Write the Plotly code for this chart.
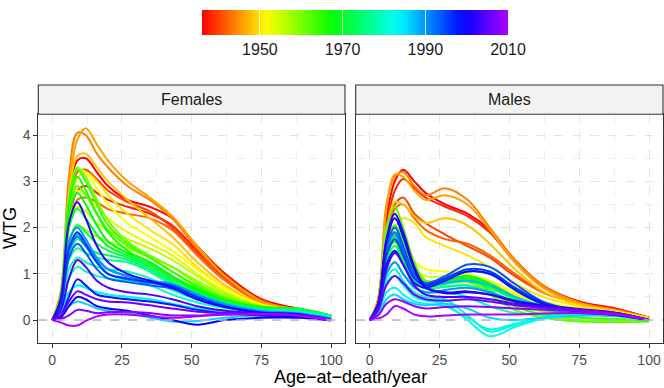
import colorsys
import plotly.graph_objects as go

# ---------------- data ----------------
AGES = [0, 3, 6, 9, 12, 16, 20, 27, 35, 43, 52, 62, 75, 88, 100]

YEARS = [1936, 1938, 1940, 1942, 1944, 1946, 1948, 1950, 1952, 1954,
         1956, 1958, 1960, 1962, 1964, 1966, 1968, 1970, 1972, 1974,
         1976, 1978, 1980, 1982, 1984, 1986, 1988, 1990, 1992, 1994,
         1996, 1998, 2000, 2002, 2004, 2006, 2008, 2010]

FEMALE_WTG = [
    [0, 0.5, 2.6, 3.45, 3.5, 3.2, 2.9, 2.6, 2.45, 2.2, 1.6, 1.0, 0.45, 0.25, 0.08],
    [0, 0.4, 2.1, 2.8, 2.9, 2.75, 2.6, 2.45, 2.3, 2.05, 1.5, 0.95, 0.42, 0.22, 0.07],
    [0, 0.45, 2.4, 3.2, 3.25, 3.05, 2.8, 2.55, 2.35, 2.0, 1.45, 0.9, 0.4, 0.22, 0.07],
    [0, 0.4, 2.0, 2.6, 2.65, 2.55, 2.4, 2.3, 2.2, 1.95, 1.4, 0.85, 0.38, 0.2, 0.06],
    [0, 0.6, 3.1, 4.05, 4.0, 3.6, 3.3, 2.9, 2.6, 2.2, 1.55, 0.95, 0.42, 0.22, 0.07],
    [0, 0.5, 2.8, 3.9, 4.15, 3.8, 3.45, 3.0, 2.65, 2.25, 1.6, 0.95, 0.4, 0.22, 0.07],
    [0, 0.5, 2.7, 3.55, 3.6, 3.3, 3.0, 2.6, 2.2, 1.8, 1.25, 0.75, 0.35, 0.2, 0.06],
    [0, 0.4, 2.3, 3.05, 3.2, 3.0, 2.7, 2.3, 1.95, 1.65, 1.15, 0.7, 0.34, 0.2, 0.06],
    [0, 0.5, 2.6, 3.25, 3.2, 2.85, 2.5, 2.1, 1.8, 1.5, 1.1, 0.68, 0.33, 0.2, 0.06],
    [0, 0.4, 2.2, 2.8, 2.7, 2.45, 2.2, 1.9, 1.65, 1.4, 1.0, 0.62, 0.3, 0.2, 0.06],
    [0, 0.4, 2.0, 2.45, 2.35, 2.1, 1.95, 1.75, 1.55, 1.3, 0.95, 0.58, 0.3, 0.2, 0.06],
    [0, 0.3, 1.7, 2.05, 1.95, 1.8, 1.7, 1.55, 1.35, 1.15, 0.85, 0.55, 0.3, 0.22, 0.07],
    [0, 0.5, 2.6, 3.3, 3.1, 2.6, 2.15, 1.7, 1.4, 1.15, 0.8, 0.5, 0.28, 0.22, 0.08],
    [0, 0.4, 2.3, 2.9, 2.7, 2.3, 1.95, 1.6, 1.35, 1.05, 0.75, 0.48, 0.28, 0.23, 0.08],
    [0, 0.5, 2.6, 3.25, 3.0, 2.5, 2.05, 1.65, 1.35, 1.05, 0.72, 0.46, 0.28, 0.24, 0.09],
    [0, 0.5, 2.5, 3.1, 2.8, 2.3, 1.9, 1.5, 1.25, 0.95, 0.68, 0.44, 0.28, 0.25, 0.09],
    [0, 0.45, 2.3, 2.75, 2.5, 2.05, 1.7, 1.45, 1.25, 0.95, 0.65, 0.42, 0.27, 0.25, 0.1],
    [0, 0.4, 2.0, 2.4, 2.2, 1.85, 1.6, 1.4, 1.2, 0.9, 0.62, 0.4, 0.27, 0.24, 0.1],
    [0, 0.35, 1.7, 2.05, 1.9, 1.65, 1.5, 1.35, 1.15, 0.85, 0.58, 0.38, 0.25, 0.23, 0.1],
    [0, 0.3, 1.4, 1.75, 1.6, 1.45, 1.4, 1.3, 1.1, 0.8, 0.55, 0.36, 0.24, 0.22, 0.09],
    [0, 0.3, 1.3, 1.55, 1.45, 1.35, 1.3, 1.25, 1.05, 0.75, 0.5, 0.33, 0.22, 0.2, 0.08],
    [0, 0.25, 1.1, 1.35, 1.25, 1.15, 1.1, 1.05, 0.9, 0.65, 0.45, 0.3, 0.2, 0.18, 0.07],
    [0, 0.2, 0.9, 1.15, 1.05, 0.95, 0.9, 0.85, 0.75, 0.55, 0.38, 0.26, 0.18, 0.16, 0.06],
    [0, 0.15, 0.6, 0.75, 0.7, 0.6, 0.55, 0.5, 0.45, 0.35, 0.25, 0.2, 0.15, 0.13, 0.05],
    [0, 0.15, 0.6, 0.75, 0.7, 0.6, 0.55, 0.5, 0.45, 0.35, 0.25, 0.2, 0.15, 0.13, 0.05],
    [0, 0.1, 0.3, 0.4, 0.35, 0.25, 0.2, 0.15, 0.05, -0.03, -0.02, 0.05, 0.1, 0.1, 0.03],
    [0, 0.35, 1.5, 1.85, 1.65, 1.3, 1.1, 0.95, 0.85, 0.75, 0.55, 0.35, 0.2, 0.15, 0.04],
    [0, 0.4, 1.7, 2.0, 1.75, 1.35, 1.1, 0.95, 0.85, 0.78, 0.55, 0.34, 0.19, 0.14, 0.03],
    [0, 0.35, 1.5, 1.8, 1.6, 1.25, 1.0, 0.88, 0.8, 0.72, 0.5, 0.3, 0.17, 0.12, 0.02],
    [0, 0.3, 1.35, 1.65, 1.45, 1.1, 0.9, 0.82, 0.75, 0.68, 0.45, 0.28, 0.15, 0.1, 0.01],
    [0, 0.35, 1.55, 1.9, 1.65, 1.25, 1.0, 0.9, 0.82, 0.74, 0.5, 0.3, 0.16, 0.11, 0.0],
    [0, 0.1, 0.5, 0.88, 0.75, 0.55, 0.5, 0.45, 0.4, 0.33, 0.22, 0.15, 0.1, 0.07, 0.0],
    [0, 0.05, 0.3, 0.5, 0.45, 0.3, 0.25, 0.2, 0.1, 0.0, -0.1, 0.0, 0.05, 0.05, -0.01],
    [0, 0.45, 2.1, 2.55, 2.2, 1.6, 1.25, 1.0, 0.85, 0.7, 0.45, 0.28, 0.16, 0.13, 0.0],
    [0, 0.2, 0.9, 1.3, 1.15, 0.85, 0.7, 0.6, 0.55, 0.45, 0.3, 0.2, 0.14, 0.12, 0.0],
    [0, 0.1, 0.4, 0.62, 0.55, 0.45, 0.4, 0.38, 0.32, 0.25, 0.18, 0.15, 0.13, 0.1, 0.0],
    [0, 0.02, 0.1, 0.22, 0.2, 0.15, 0.17, 0.18, 0.15, 0.1, 0.1, 0.12, 0.12, 0.1, 0.0],
    [0, -0.05, -0.12, -0.12, -0.02, 0.08, 0.12, 0.12, 0.08, 0.05, 0.08, 0.12, 0.13, 0.1, 0.0],
]

MALE_WTG = [
    [0, 0.4, 2.2, 3.0, 3.25, 3.0, 2.75, 2.5, 2.3, 1.95, 1.3, 0.75, 0.4, 0.25, 0.05],
    [0, 0.35, 2.0, 2.8, 3.05, 2.85, 2.65, 2.45, 2.25, 1.9, 1.25, 0.72, 0.38, 0.24, 0.05],
    [0, 0.3, 1.8, 2.5, 2.65, 2.3, 2.1, 1.85, 1.6, 1.35, 0.95, 0.6, 0.35, 0.22, 0.05],
    [0, 0.3, 1.8, 2.4, 2.5, 2.2, 1.95, 1.75, 1.65, 1.4, 1.0, 0.6, 0.35, 0.22, 0.05],
    [0, 0.45, 2.5, 3.1, 3.2, 2.9, 2.7, 2.85, 2.6, 2.0, 1.3, 0.75, 0.38, 0.22, 0.04],
    [0, 0.45, 2.4, 3.15, 3.1, 2.8, 2.6, 2.7, 2.5, 1.95, 1.25, 0.7, 0.36, 0.2, 0.04],
    [0, 0.35, 1.9, 2.55, 2.5, 2.25, 2.1, 2.2, 2.05, 1.65, 1.1, 0.62, 0.33, 0.2, 0.04],
    [0, 0.3, 1.6, 2.0, 2.2, 2.1, 1.8, 1.6, 1.4, 1.15, 0.8, 0.5, 0.3, 0.18, 0.04],
    [0, 0.3, 1.5, 1.75, 1.5, 1.25, 1.1, 1.05, 1.0, 0.85, 0.6, 0.4, 0.25, 0.17, 0.04],
    [0, 0.3, 1.4, 1.7, 1.4, 1.1, 0.95, 0.95, 0.95, 0.8, 0.55, 0.38, 0.24, 0.17, 0.04],
    [0, 0.3, 1.45, 1.8, 1.5, 1.05, 0.85, 0.85, 0.9, 0.75, 0.5, 0.33, 0.22, 0.16, 0.03],
    [0, 0.3, 1.5, 1.85, 1.45, 1.0, 0.8, 0.8, 0.82, 0.62, 0.35, 0.18, 0.06, 0.0, -0.02],
    [0, 0.35, 1.8, 2.3, 1.9, 1.2, 0.85, 0.85, 0.85, 0.6, 0.3, 0.1, 0.0, -0.03, -0.03],
    [0, 0.4, 2.0, 2.45, 2.0, 1.25, 0.85, 0.85, 0.85, 0.55, 0.22, 0.05, -0.03, -0.04, -0.03],
    [0, 0.35, 1.7, 2.05, 1.7, 1.1, 0.8, 0.85, 0.9, 0.65, 0.3, 0.12, 0.05, 0.02, -0.02],
    [0, 0.3, 1.55, 1.9, 1.55, 1.05, 0.8, 0.85, 0.95, 0.75, 0.45, 0.22, 0.12, 0.08, 0.0],
    [0, 0.3, 1.5, 1.8, 1.45, 1.0, 0.78, 0.85, 0.95, 0.8, 0.5, 0.28, 0.15, 0.12, 0.0],
    [0, 0.3, 1.4, 1.7, 1.35, 0.95, 0.75, 0.8, 0.9, 0.75, 0.48, 0.28, 0.16, 0.12, 0.0],
    [0, 0.25, 1.3, 1.6, 1.3, 0.9, 0.72, 0.78, 0.85, 0.7, 0.45, 0.27, 0.17, 0.13, 0.0],
    [0, 0.25, 1.2, 1.5, 1.2, 0.85, 0.68, 0.72, 0.75, 0.6, 0.4, 0.25, 0.17, 0.13, 0.0],
    [0, 0.25, 1.2, 1.5, 1.2, 0.85, 0.68, 0.72, 0.75, 0.6, 0.4, 0.25, 0.17, 0.13, 0.0],
    [0, 0.2, 1.0, 1.25, 1.0, 0.72, 0.6, 0.6, 0.5, 0.3, 0.15, 0.12, 0.12, 0.1, 0.0],
    [0, 0.2, 0.9, 1.1, 0.85, 0.6, 0.5, 0.45, 0.1, -0.25, -0.1, 0.05, 0.1, 0.1, 0.0],
    [0, 0.2, 0.8, 0.95, 0.75, 0.5, 0.42, 0.35, 0.0, -0.35, -0.15, 0.03, 0.1, 0.1, 0.0],
    [0, 0.15, 0.6, 0.7, 0.55, 0.4, 0.35, 0.3, 0.05, -0.2, -0.08, 0.05, 0.1, 0.1, 0.0],
    [0, 0.1, 0.45, 0.55, 0.45, 0.35, 0.32, 0.35, 0.25, 0.05, 0.0, 0.05, 0.1, 0.1, 0.0],
    [0, 0.3, 1.5, 1.85, 1.5, 0.95, 0.75, 0.8, 0.85, 0.75, 0.5, 0.3, 0.17, 0.12, 0.0],
    [0, 0.2, 1.0, 1.25, 1.0, 0.7, 0.6, 0.65, 0.7, 0.6, 0.4, 0.25, 0.15, 0.1, 0.0],
    [0, 0.3, 1.55, 1.9, 1.5, 0.95, 0.78, 0.9, 1.05, 1.0, 0.68, 0.37, 0.19, 0.12, 0.0],
    [0, 0.35, 1.6, 2.0, 1.6, 1.0, 0.8, 0.95, 1.2, 1.15, 0.78, 0.4, 0.2, 0.12, 0.0],
    [0, 0.3, 1.4, 1.75, 1.4, 0.9, 0.75, 0.9, 1.1, 1.05, 0.7, 0.38, 0.19, 0.12, 0.0],
    [0, 0.25, 1.2, 1.5, 1.2, 0.8, 0.7, 0.85, 1.05, 1.0, 0.65, 0.35, 0.18, 0.11, 0.0],
    [0, 0.35, 1.7, 2.2, 1.8, 1.1, 0.7, 0.6, 0.62, 0.55, 0.4, 0.3, 0.22, 0.15, 0.0],
    [0, 0.35, 1.75, 2.3, 1.9, 1.15, 0.72, 0.58, 0.6, 0.55, 0.42, 0.32, 0.24, 0.16, 0.0],
    [0, 0.25, 1.1, 1.45, 1.2, 0.75, 0.55, 0.5, 0.5, 0.45, 0.35, 0.28, 0.22, 0.15, 0.0],
    [0, 0.2, 0.75, 0.95, 0.8, 0.55, 0.45, 0.42, 0.45, 0.4, 0.32, 0.27, 0.22, 0.15, 0.0],
    [0, 0.1, 0.35, 0.45, 0.4, 0.3, 0.25, 0.28, 0.3, 0.28, 0.25, 0.22, 0.2, 0.14, 0.0],
    [0, 0.03, 0.12, 0.3, 0.25, 0.12, 0.08, 0.1, 0.12, 0.12, 0.12, 0.14, 0.15, 0.12, 0.0],
]

PANELS = ["Females", "Males"]
X_TICKS = [0, 25, 50, 75, 100]
Y_TICKS = [0, 1, 2, 3, 4]
CBAR_TICKS = [1950, 1970, 1990, 2010]

# ---------------- styling ----------------
YMIN, YMAX = YEARS[0], YEARS[-1]
HUE_END = 0.78


def year_color(y):
    t = (y - YMIN) / (YMAX - YMIN)
    r, g, b = colorsys.hsv_to_rgb(HUE_END * t, 1.0, 1.0)
    return "rgb(%d,%d,%d)" % (round(r * 255), round(g * 255), round(b * 255))


NSTOP = 24
COLORSCALE = [[i / NSTOP, year_color(YMIN + (YMAX - YMIN) * i / NSTOP)] for i in range(NSTOP + 1)]

W, H = 664, 388
FONT = "Liberation Sans, Arial, sans-serif"

# panel geometry in px
P_LEFT = [38.3, 355.7]
P_RIGHT = [345.0, 663.0]
P_TOP, P_BOT = 114.3, 342.7
STRIP_TOP = 85.0


def fx(px):
    return px / W


def fy(py):
    return 1 - py / H


fig = go.Figure()

for pi, data in enumerate([FEMALE_WTG, MALE_WTG]):
    xa = "x" if pi == 0 else "x2"
    ya = "y" if pi == 0 else "y2"
    for year, vals in zip(YEARS, data):
        fig.add_trace(go.Scatter(
            x=AGES, y=vals, mode="lines", xaxis=xa, yaxis=ya,
            line=dict(color=year_color(year), width=2.0, shape="spline", smoothing=1.0),
            showlegend=False, hoverinfo="skip"))

# colour bar carrier
fig.add_trace(go.Scatter(
    x=[50], y=[-10], mode="markers", xaxis="x", yaxis="y", showlegend=False,
    marker=dict(size=1, color=[YMIN], cmin=YMIN, cmax=YMAX, colorscale=COLORSCALE,
                showscale=True,
                colorbar=dict(orientation="h", x=fx(355.0), xanchor="center",
                              y=fy(10.0), yanchor="top", len=306 / W, lenmode="fraction",
                              thickness=25, thicknessmode="pixels", outlinewidth=0,
                              xpad=0, ypad=0,
                              tickvals=CBAR_TICKS, ticks="inside", ticklen=25,
                              tickcolor="rgba(255,255,255,0.8)", tickwidth=1,
                              tickfont=dict(size=16, color="#1A1A1A", family=FONT)))))

grid = "#E3E3E3"
minor_grid = "#EFEFEF"
axis_common = dict(showline=True, mirror=True, linecolor="#333333", linewidth=1.1,
                   ticklen=4, tickcolor="#333333", tickwidth=1,
                   tickfont=dict(size=14, color="#4D4D4D", family=FONT),
                   showgrid=True, gridcolor=grid, griddash="dash", gridwidth=1,
                   zeroline=False)
x_minor = dict(tickvals=[12.5, 37.5, 62.5, 87.5], showgrid=True,
               gridcolor=minor_grid, griddash="dash", ticks="")
y_minor = dict(tickvals=[0.5, 1.5, 2.5, 3.5], showgrid=True,
               gridcolor=minor_grid, griddash="dash", ticks="")

layout = dict(
    width=W, height=H, margin=dict(l=0, r=0, t=0, b=0, autoexpand=False),
    paper_bgcolor="white", plot_bgcolor="white",
    font=dict(family=FONT),
    xaxis=dict(domain=[fx(P_LEFT[0]), fx(P_RIGHT[0])], range=[-5, 105], tickvals=X_TICKS,
               anchor="y", ticks="outside", minor=x_minor, **axis_common),
    xaxis2=dict(domain=[fx(P_LEFT[1]), fx(P_RIGHT[1])], range=[-5, 105], tickvals=X_TICKS,
                anchor="y2", ticks="outside", minor=x_minor, **axis_common),
    yaxis=dict(domain=[fy(P_BOT), fy(P_TOP)], range=[-0.49, 4.45], tickvals=Y_TICKS,
               anchor="x", ticks="outside", minor=y_minor, **axis_common),
    yaxis2=dict(domain=[fy(P_BOT), fy(P_TOP)], range=[-0.49, 4.45], tickvals=Y_TICKS,
                anchor="x2", showticklabels=False, ticks="", minor=y_minor, **axis_common),
)
fig.update_layout(**layout)

shapes = []
annotations = []
for pi, name in enumerate(PANELS):
    xd = "x domain" if pi == 0 else "x2 domain"
    yr = "y" if pi == 0 else "y2"
    # dashed zero reference line
    shapes.append(dict(type="line", xref=xd, yref=yr, x0=0, x1=1, y0=0, y1=0,
                       line=dict(color="#BBBBBB", width=1.6, dash="dash"), layer="above"))
    # strip
    shapes.append(dict(type="rect", xref="paper", yref="paper",
                       x0=fx(P_LEFT[pi]), x1=fx(P_RIGHT[pi]), y0=fy(P_TOP), y1=fy(STRIP_TOP),
                       fillcolor="#F2F2F2", line=dict(color="#333333", width=1.1), layer="above"))
    annotations.append(dict(text=name, xref="paper", yref="paper",
                            x=fx((P_LEFT[pi] + P_RIGHT[pi]) / 2), y=fy((P_TOP + STRIP_TOP) / 2),
                            xanchor="center", yanchor="middle", showarrow=False,
                            font=dict(size=16, color="#1A1A1A", family=FONT)))

annotations.append(dict(text="Age\u2212at\u2212death/year", xref="paper", yref="paper",
                        x=fx((P_LEFT[0] + P_RIGHT[1]) / 2), y=fy(376.5),
                        xanchor="center", yanchor="middle", showarrow=False,
                        font=dict(size=18, color="black", family=FONT)))
annotations.append(dict(text="WTG", xref="paper", yref="paper", textangle=-90,
                        x=fx(9.5), y=fy((P_TOP + P_BOT) / 2),
                        xanchor="center", yanchor="middle", showarrow=False,
                        font=dict(size=18, color="black", family=FONT)))

fig.update_layout(shapes=shapes, annotations=annotations)

fig.write_html("out.html", config={"displayModeBar": False},
               post_script="document.body.style.margin='0';document.body.style.padding='0';")
